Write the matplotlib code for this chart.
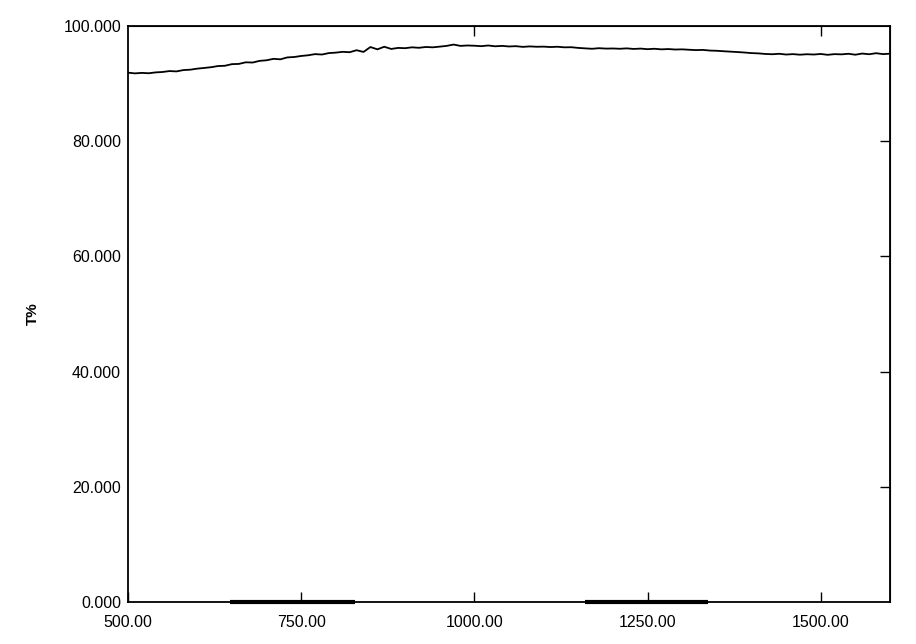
import matplotlib
matplotlib.use("Agg")
import matplotlib.pyplot as plt
import numpy as np

plt.rcParams['font.family'] = ['Liberation Sans', 'DejaVu Sans']

# wavelength (nm), sampled every 10 nm
wavelength = np.arange(500, 1601, 10)
# transmittance (%)
transmittance = [
    91.90, 91.78, 91.86, 91.80, 91.95, 92.02, 92.18, 92.12, 92.35, 92.42,
    92.60, 92.72, 92.85, 93.05, 93.10, 93.38, 93.42, 93.70, 93.66, 93.95,
    94.05, 94.30, 94.22, 94.55, 94.62, 94.80, 94.92, 95.12, 95.05, 95.30,
    95.38, 95.52, 95.45, 95.80, 95.50, 96.35, 95.95, 96.40, 96.02, 96.20,
    96.15, 96.30, 96.22, 96.36, 96.30, 96.42, 96.55, 96.78, 96.55, 96.62,
    96.58, 96.50, 96.62, 96.48, 96.55, 96.45, 96.50, 96.38, 96.46, 96.40,
    96.42, 96.35, 96.40, 96.30, 96.32, 96.20, 96.12, 96.05, 96.15, 96.08,
    96.10, 96.05, 96.12, 96.02, 96.08, 95.98, 96.05, 95.95, 96.00, 95.92,
    95.95, 95.88, 95.82, 95.85, 95.74, 95.70, 95.62, 95.55, 95.48, 95.40,
    95.30, 95.25, 95.15, 95.10, 95.18, 95.05, 95.12, 95.02, 95.10, 95.05,
    95.15, 95.00, 95.12, 95.08, 95.18, 95.02, 95.22, 95.10, 95.28, 95.12,
    95.20,
]

y_ticks = [0, 20, 40, 60, 80, 100]
x_ticks = [500, 750, 1000, 1250, 1500]
top_ticks = [1000, 1500]
right_ticks = [20, 40, 60, 80]
# thicker stretches of the bottom axis line seen in the reference
thick_segments = [(647, 828), (1160, 1337)]

fig = plt.figure(figsize=(9.16, 6.44), dpi=100)
ax = fig.add_axes([0.1397, 0.0652, 0.8319, 0.8944])

ax.plot(wavelength, transmittance, color='black', lw=1.3)

ax.set_xlim(500, 1600)
ax.set_ylim(0, 100)
ax.set_xticks(x_ticks)
ax.set_xticklabels([f'{v:.2f}' for v in x_ticks])
ax.set_yticks(y_ticks)
ax.set_yticklabels([f'{v:.3f}' for v in y_ticks])
ax.tick_params(axis='x', direction='in', length=7, width=1, pad=9.5,
               labelsize=11.5)
ax.tick_params(axis='y', length=0, pad=5, labelsize=11.5)
for s in ax.spines.values():
    s.set_linewidth(1.3)

for x0, x1 in thick_segments:
    ax.plot([x0, x1], [0, 0], color='black', lw=3, clip_on=False,
            solid_capstyle='butt')

top = ax.secondary_xaxis('top')
top.set_xticks(top_ticks)
top.tick_params(direction='in', length=7, width=1, labeltop=False)
right = ax.secondary_yaxis('right')
right.set_yticks(right_ticks)
right.tick_params(direction='in', length=7, width=1, labelright=False)

ax.set_ylabel('T%', fontsize=11, fontweight='bold')
ax.yaxis.set_label_coords(-0.115, 0.5)

fig.savefig('out.png', dpi=100)
